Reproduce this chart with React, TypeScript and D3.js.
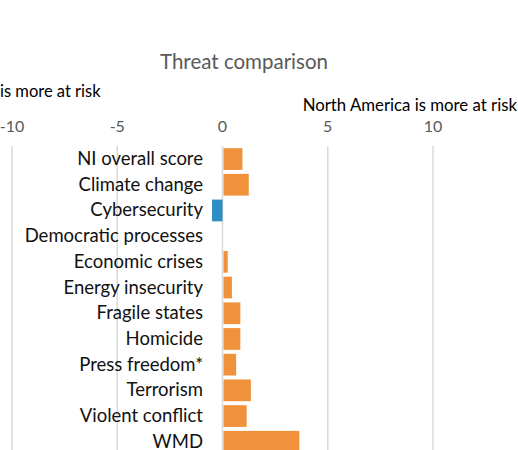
import React from "react";
import * as d3 from "d3";

const categories = [
  "NI overall score",
  "Climate change",
  "Cybersecurity",
  "Democratic processes",
  "Economic crises",
  "Energy insecurity",
  "Fragile states",
  "Homicide",
  "Press freedom*",
  "Terrorism",
  "Violent conflict",
  "WMD",
];
const values = [0.9, 1.2, -0.5, 0, 0.2, 0.4, 0.8, 0.8, 0.6, 1.3, 1.1, 3.6];
const tickValues = [-10, -5, 0, 5, 10];
const title = "Threat comparison";
const leftNote = "is more at risk";
const rightNote = "North America is more at risk";

const W = 518;
const H = 450;
const FONT = "Lato, 'Open Sans', sans-serif";
const ORANGE = "#F0913B";
const BLUE = "#2E8DC3";

export default function App() {
  const x = d3.scaleLinear().domain([-10, 10]).range([12, 433]);
  const step = 25.7;
  const y = d3
    .scaleBand<string>()
    .domain(categories)
    .range([146.2, 146.2 + categories.length * step])
    .paddingInner(0.155)
    .paddingOuter(0.0775);

  return (
    <svg
      width={W}
      height={H}
      style={{ position: "absolute", left: 0, top: 0, background: "#fff" }}
      fontFamily={FONT}
    >
      <rect x={0} y={0} width={W} height={H} fill="#fff" />
      <text x={244} y={69} textAnchor="middle" fontSize={20.5} fill="#595959">
        {title}
      </text>
      <text x={0} y={97} fontSize={16.5} fill="#000">
        {leftNote}
      </text>
      <text x={517} y={111} textAnchor="end" fontSize={16.8} fill="#000">
        {rightNote}
      </text>
      {tickValues.map((t) => (
        <g key={t}>
          <text x={x(t)} y={132} textAnchor="middle" fontSize={16} fill="#595959">
            {t}
          </text>
          <line x1={x(t)} x2={x(t)} y1={146} y2={H} stroke="#d9d9d9" strokeWidth={1.5} />
        </g>
      ))}
      {categories.map((c, i) => {
        const v = values[i];
        const y0 = y(c)!;
        return (
          <g key={c}>
            <rect
              x={Math.min(x(0), x(v)) + (v >= 0 ? 1 : 0)}
              y={y0}
              width={Math.abs(x(v) - x(0))}
              height={y.bandwidth()}
              fill={v >= 0 ? ORANGE : BLUE}
            />
            <text
              x={203}
              y={y0 + y.bandwidth() / 2 + 6}
              textAnchor="end"
              fontSize={18.5}
              fill="#111"
            >
              {c}
            </text>
          </g>
        );
      })}
    </svg>
  );
}
